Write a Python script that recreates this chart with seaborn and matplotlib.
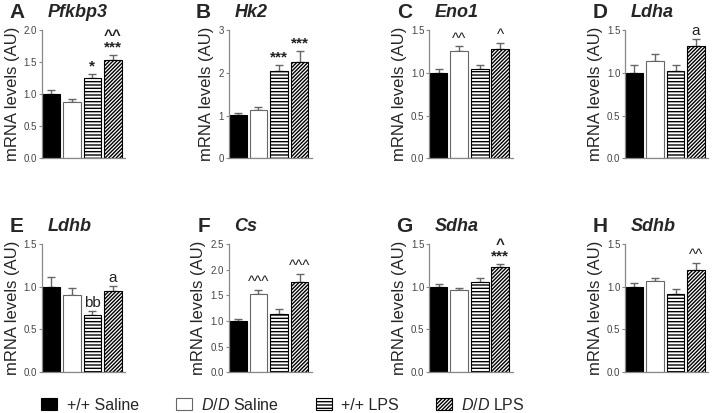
import numpy as np
import matplotlib
matplotlib.use("Agg")
import matplotlib.pyplot as plt
import seaborn as sns
from matplotlib.patches import Patch

sns.set_style("ticks")
plt.rcParams['font.family'] = ['Liberation Sans', 'DejaVu Sans']
plt.rcParams['mathtext.fontset'] = 'custom'
plt.rcParams['mathtext.it'] = 'Liberation Sans:italic'
plt.rcParams['mathtext.rm'] = 'Liberation Sans'
plt.rcParams['hatch.linewidth'] = 1.0

# Datos
groups = ['+/+ Saline', 'D/D Saline', '+/+ LPS', 'D/D LPS']
letters = ['A', 'B', 'C', 'D', 'E', 'F', 'G', 'H']
genes = ['Pfkbp3', 'Hk2', 'Eno1', 'Ldha', 'Ldhb', 'Cs', 'Sdha', 'Sdhb']

pfkbp3 = [1.00, 0.87, 1.26, 1.54]
hk2 = [1.01, 1.14, 2.05, 2.25]
eno1 = [1.00, 1.26, 1.05, 1.28]
ldha = [1.00, 1.14, 1.02, 1.32]
ldhb = [1.00, 0.90, 0.67, 0.95]
cs = [0.99, 1.52, 1.14, 1.76]
sdha = [1.00, 0.96, 1.05, 1.23]
sdhb = [1.00, 1.07, 0.92, 1.20]
means = [pfkbp3, hk2, eno1, ldha, ldhb, cs, sdha, sdhb]

pfkbp3_sem = [0.07, 0.05, 0.06, 0.07]
hk2_sem = [0.04, 0.05, 0.14, 0.25]
eno1_sem = [0.05, 0.05, 0.04, 0.07]
ldha_sem = [0.09, 0.08, 0.07, 0.08]
ldhb_sem = [0.11, 0.08, 0.05, 0.06]
cs_sem = [0.04, 0.08, 0.10, 0.16]
sdha_sem = [0.03, 0.02, 0.05, 0.04]
sdhb_sem = [0.04, 0.03, 0.05, 0.08]
sems = [pfkbp3_sem, hk2_sem, eno1_sem, ldha_sem, ldhb_sem, cs_sem, sdha_sem, sdhb_sem]

marks = [
    ['', '', '*', '^^\n***'],
    ['', '', '***', '***'],
    ['', '^^', '', '^'],
    ['', '', '', 'a'],
    ['', '', 'bb', 'a'],
    ['', '^^^', '', '^^^'],
    ['', '', '', '^\n***'],
    ['', '', '', '^^'],
]

y_top = [2.0, 3, 1.5, 1.5, 1.5, 2.5, 1.5, 1.5]
y_step = [0.5, 1, 0.5, 0.5, 0.5, 0.5, 0.5, 0.5]
y_fmt = ['%.1f', '%d', '%.1f', '%.1f', '%.1f', '%.1f', '%.1f', '%.1f']

# Estilo de las barras
faces = ['black', 'white', 'white', 'white']
hatches = [None, None, '-----', '/////////']
edges = ['black', '#666666', 'black', 'black']

fig = plt.figure(figsize=(7.12, 4.13), dpi=100)
lefts = [0.059, 0.321, 0.603, 0.878]
bottoms = [0.617, 0.099]
w, h = 0.117, 0.31

for i in range(8):
    ax = fig.add_axes([lefts[i % 4], bottoms[i // 4], w, h])
    sns.barplot(x=groups, y=means[i], order=groups, color='white',
                width=0.86, ax=ax, errorbar=None)
    for j, p in enumerate(ax.patches):
        p.set_facecolor(faces[j])
        p.set_edgecolor(edges[j])
        p.set_linewidth(0.8)
        if hatches[j]:
            p.set_hatch(hatches[j])
    x = np.arange(len(groups))
    ax.errorbar(x, means[i], yerr=[np.zeros(4), sems[i]], fmt='none',
                ecolor='#666666', elinewidth=1, capsize=3, capthick=1, zorder=0.5)
    for j, m in enumerate(marks[i]):
        if m:
            ax.annotate(m, (x[j], means[i][j] + sems[i][j]), xytext=(0, 0.5),
                        textcoords='offset points', ha='center', va='bottom',
                        fontsize=11, linespacing=0.75, color='#222222',
                        fontweight='bold' if '*' in m else 'normal')
    ax.set_xlim(-0.45, 3.6)
    ax.set_ylim(0, y_top[i])
    ax.set_yticks(np.arange(0, y_top[i] + 1e-6, y_step[i]))
    ax.set_yticklabels([y_fmt[i] % v for v in ax.get_yticks()])
    ax.set_xticks([])
    ax.set_xlabel('')
    sns.despine(ax=ax)
    for s in ['left', 'bottom']:
        ax.spines[s].set_color('#888888')
        ax.spines[s].set_linewidth(0.9)
    ax.tick_params(axis='y', length=2.5, width=0.8, color='#888888',
                   labelsize=7, labelcolor='#444444', pad=1)
    ax.set_ylabel('mRNA levels (AU)', fontsize=12, labelpad=3)
    ax.text(-0.3, 1.14, letters[i], transform=ax.transAxes, fontsize=15,
            fontweight='bold', ha='center', va='center')
    ax.text(0.07, 1.14, genes[i], transform=ax.transAxes, fontsize=13,
            fontweight='bold', fontstyle='italic', ha='left', va='center')

handles = [Patch(facecolor=faces[j], edgecolor=edges[j], hatch=hatches[j], linewidth=0.8)
           for j in range(4)]
labels = ['+/+ Saline', r'$\it{D/D}$ Saline', '+/+ LPS', r'$\it{D/D}$ LPS']
fig.legend(handles, labels, loc='center left', bbox_to_anchor=(0.038, 0.02),
           ncol=4, frameon=False, fontsize=11.5, handlelength=1.0,
           handleheight=0.75, handletextpad=0.6, columnspacing=2.3)

fig.savefig('out.png', dpi=100)
